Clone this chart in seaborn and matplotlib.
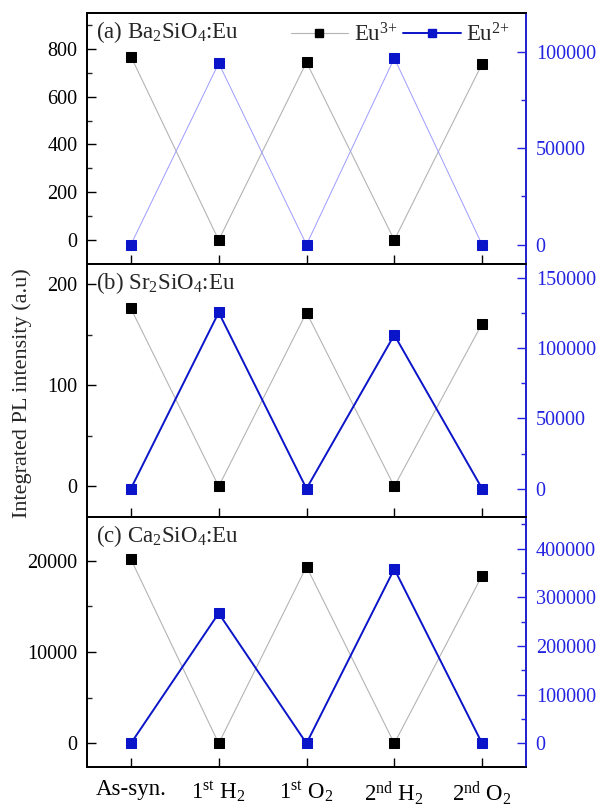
import numpy as np
import pandas as pd
import matplotlib
matplotlib.use("Agg")
import matplotlib.pyplot as plt
from matplotlib.ticker import AutoMinorLocator, MultipleLocator
from matplotlib.lines import Line2D
import seaborn as sns

# ---- data -------------------------------------------------------------
stages = ["As-syn.", "1$^{st}$ H$_2$", "1$^{st}$ O$_2$", "2$^{nd}$ H$_2$", "2$^{nd}$ O$_2$"]
panel_titles = ["(a) Ba$_2$SiO$_4$:Eu", "(b) Sr$_2$SiO$_4$:Eu", "(c) Ca$_2$SiO$_4$:Eu"]
legend_labels = ["Eu$^{3{+}}$", "Eu$^{2{+}}$"]

eu3_ba = [768, 0, 744, 0, 737]
eu2_ba = [0, 94000, 0, 96600, 0]

eu3_sr = [176, 0, 172, 0, 161]
eu2_sr = [0, 125500, 0, 109500, 0]

eu3_ca = [20150, 0, 19340, 0, 18360]
eu2_ca = [0, 267500, 0, 358600, 0]

left_lims = [(-100, 950), (-30, 220), (-2550, 24800)]
right_lims = [(-10000, 120000), (-20000, 160000), (-48000, 466000)]
left_major = [200, 100, 10000]
right_major = [50000, 50000, 100000]

# ---- style ------------------------------------------------------------
sns.set_style("ticks")
plt.rcParams["font.family"] = ["Liberation Serif", "DejaVu Serif"]
plt.rcParams["mathtext.default"] = "regular"
plt.rcParams["axes.linewidth"] = 1.3

FS = 14.5
BLUE = "#0a14c8"
AXBLUE = "#2323e0"
GRAY = "#b4b4b4"

fig = plt.figure(figsize=(5.97, 8.09), dpi=100)

left, width = 87 / 597, (526 - 87) / 597
edges_px = [13, 264, 516.7, 766.7]
H = 809

series = [(eu3_ba, eu2_ba), (eu3_sr, eu2_sr), (eu3_ca, eu2_ca)]
blue_line = [("#9c9cff", 0.7), (BLUE, 1.4), (BLUE, 1.4)]

for i in range(3):
    top_px, bot_px = edges_px[i], edges_px[i + 1]
    ax = fig.add_axes([left, 1 - bot_px / H, width, (bot_px - top_px) / H])
    ax2 = ax.twinx()

    eu3, eu2 = series[i]
    df = pd.DataFrame({"stage": stages, "eu3": eu3, "eu2": eu2})

    sns.lineplot(data=df, x="stage", y="eu3", ax=ax, sort=False, color=GRAY,
                 linewidth=0.8, marker="s", markersize=6.5,
                 markerfacecolor="black", markeredgecolor="black", zorder=3)
    bc, bw = blue_line[i]
    sns.lineplot(data=df, x="stage", y="eu2", ax=ax2, sort=False, color=bc,
                 linewidth=bw, marker="s", markersize=6.5,
                 markerfacecolor=BLUE, markeredgecolor=BLUE, zorder=3)

    ax.set_xlim(-0.5, 4.5)
    ax.set_ylim(*left_lims[i])
    ax2.set_ylim(*right_lims[i])
    ax.yaxis.set_major_locator(MultipleLocator(left_major[i]))
    ax.yaxis.set_minor_locator(AutoMinorLocator(2))
    ax2.yaxis.set_major_locator(MultipleLocator(right_major[i]))
    ax2.yaxis.set_minor_locator(AutoMinorLocator(2))

    ax.set_xlabel("")
    ax.set_ylabel("")
    ax2.set_ylabel("")

    ax.tick_params(axis="both", which="major", direction="in", length=6.5,
                   width=1.0, labelsize=FS, colors="black")
    ax.tick_params(axis="y", which="major", pad=7)
    ax.tick_params(axis="y", which="minor", direction="in", length=3.5, width=1.0)
    ax.tick_params(axis="x", which="minor", bottom=False)
    ax2.tick_params(axis="y", which="major", direction="in", length=6.5,
                    width=1.0, labelsize=FS, colors=AXBLUE, pad=7)
    ax2.tick_params(axis="y", which="minor", direction="in", length=3.5,
                    width=1.0, colors=AXBLUE)
    ax2.spines["right"].set_color(AXBLUE)
    for s in ["left", "top", "bottom"]:
        ax.spines[s].set_color("black")
        ax2.spines[s].set_color("black")

    if i < 2:
        ax.tick_params(axis="x", labelbottom=False)
    else:
        ax.tick_params(axis="x", pad=9, labelsize=16.5)

    ax.text(0.02, 0.975, panel_titles[i], transform=ax.transAxes,
            fontsize=16.5, va="top", ha="left")

    if i == 0:
        handles = [
            Line2D([], [], color=GRAY, lw=0.8, marker="s", markersize=6,
                   markerfacecolor="black", markeredgecolor="black"),
            Line2D([], [], color=BLUE, lw=1.4, marker="s", markersize=6,
                   markerfacecolor=BLUE, markeredgecolor=BLUE),
        ]
        ax.legend(handles, legend_labels, ncol=2, frameon=False,
                  fontsize=16.5, loc="upper right", bbox_to_anchor=(0.995, 1.015),
                  handlelength=2.5, handletextpad=0.25, columnspacing=0.25,
                  borderaxespad=0.2)

fig.text(0.037, 1 - 393 / H, "Integrated PL intensity (a.u)", rotation=90,
         fontsize=16, va="center", ha="center")

fig.savefig("out.png", dpi=100)
